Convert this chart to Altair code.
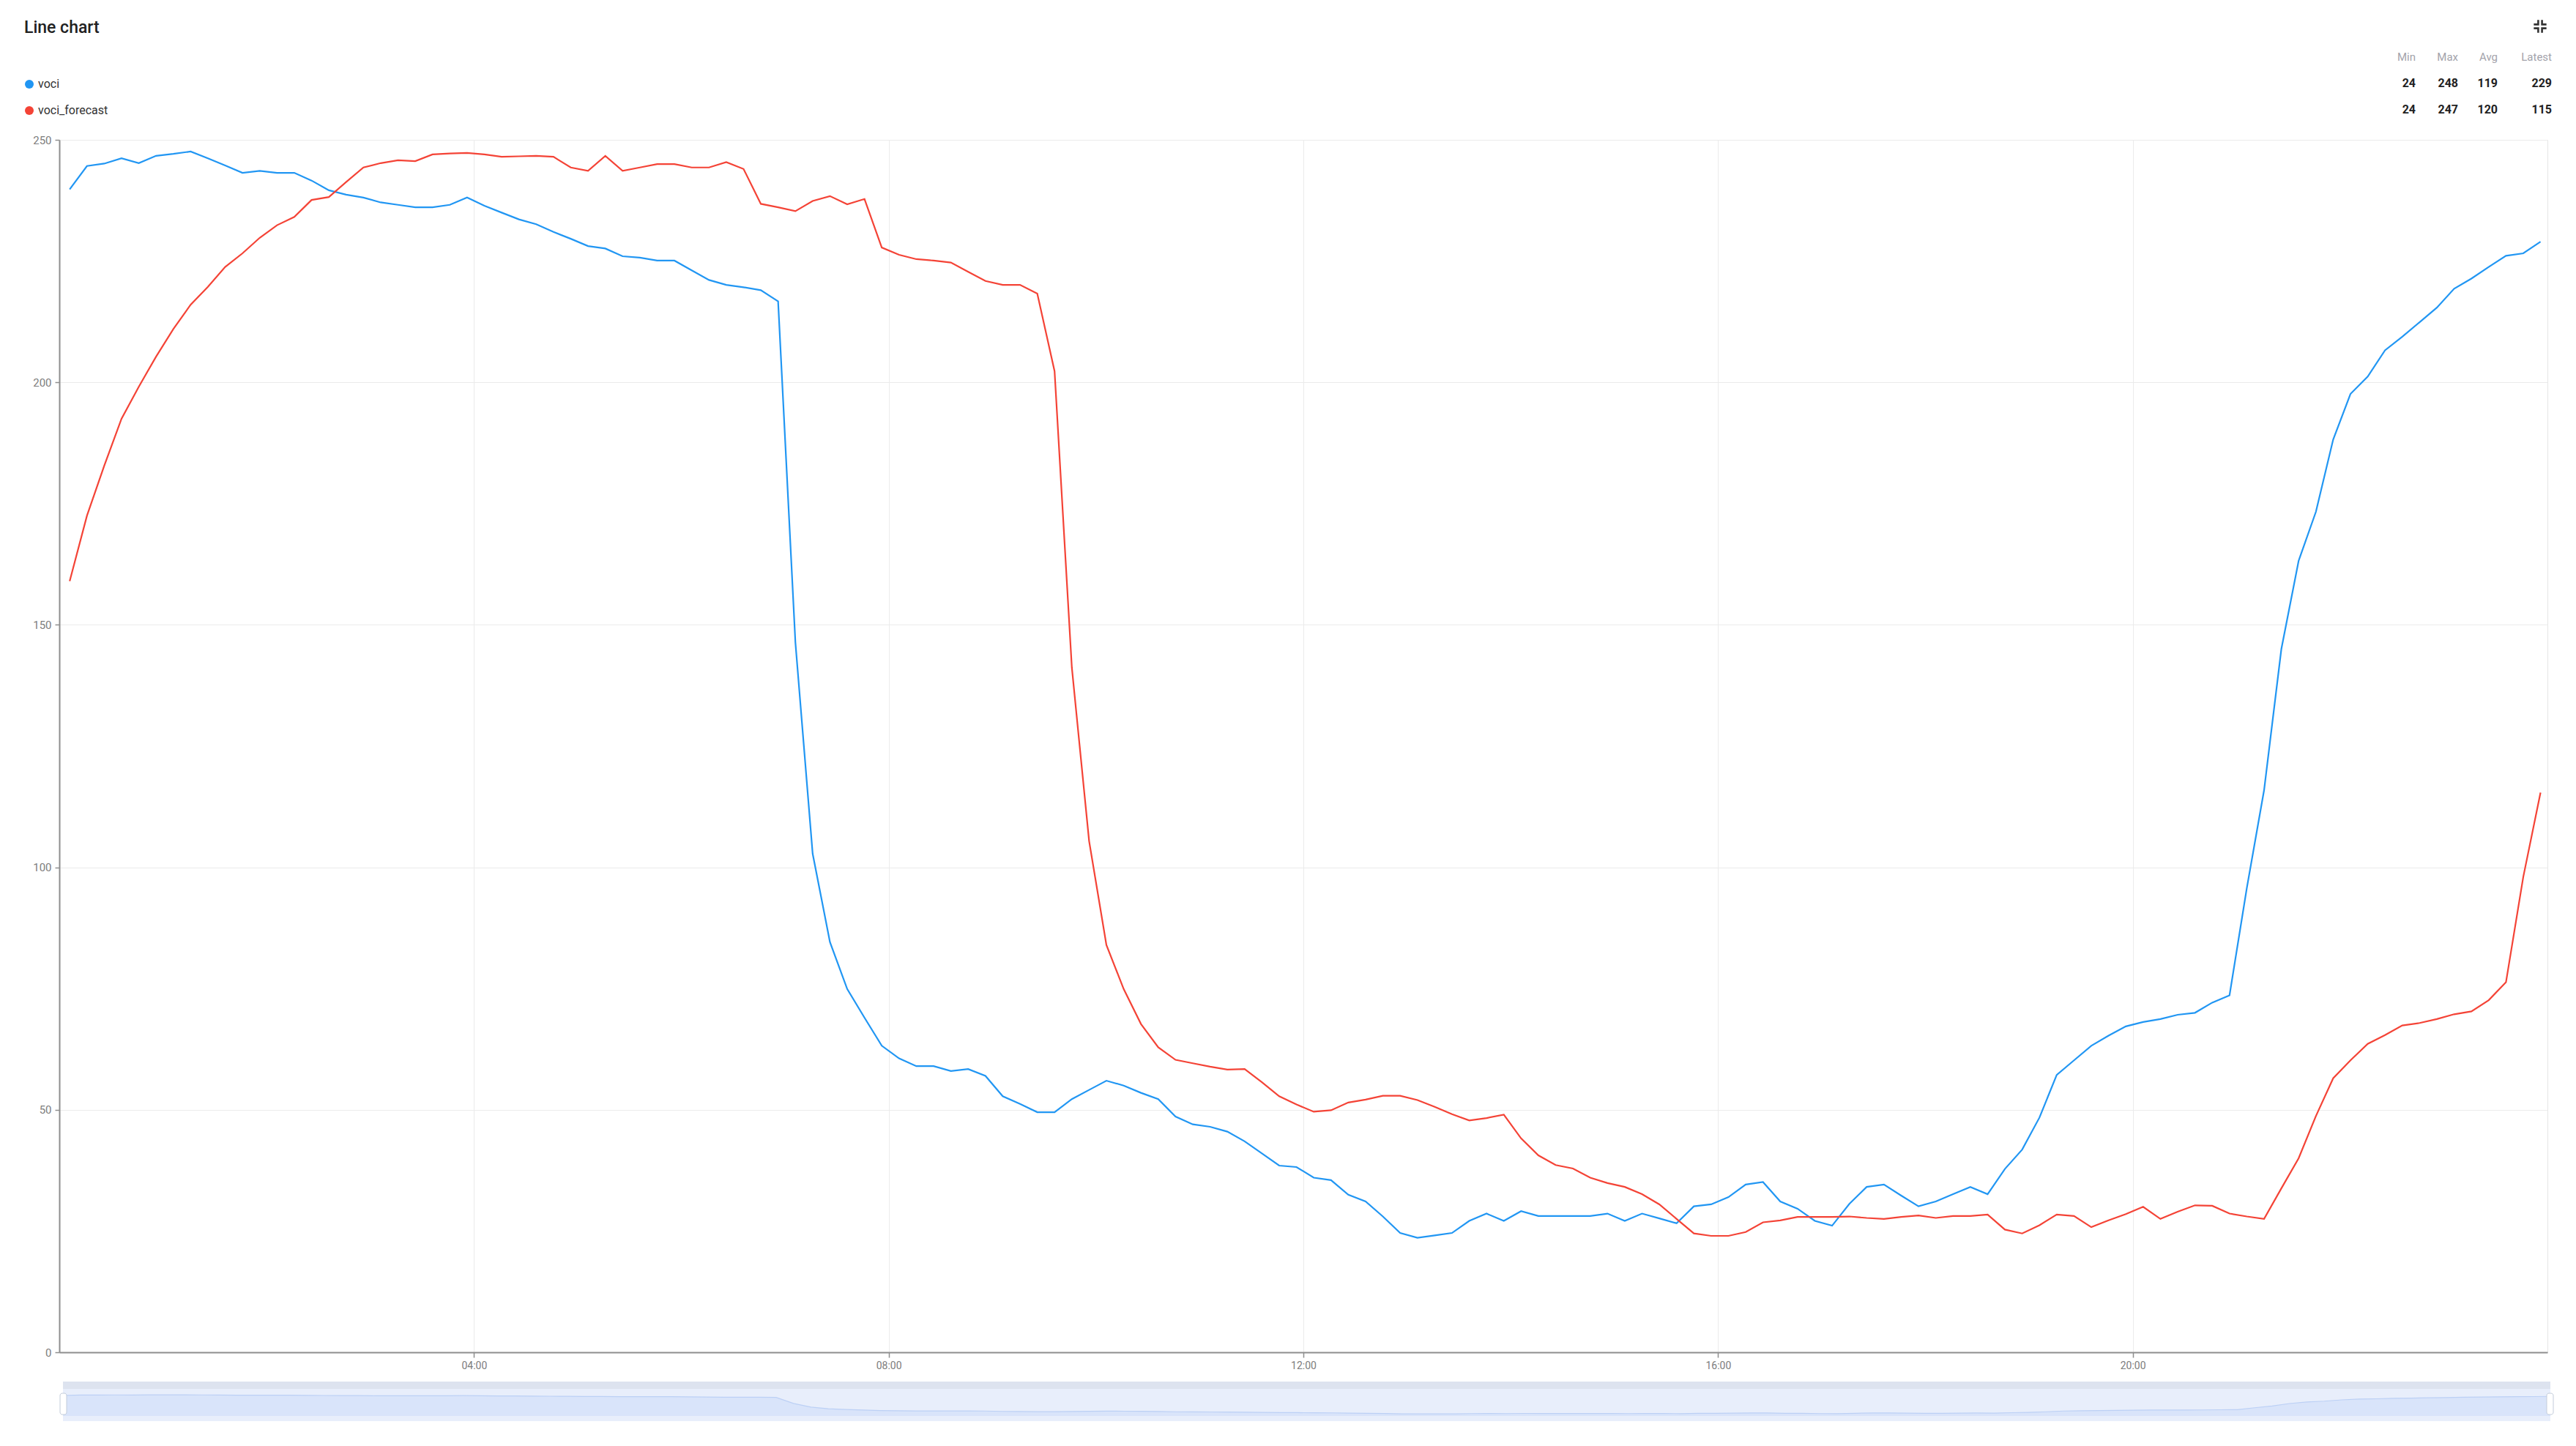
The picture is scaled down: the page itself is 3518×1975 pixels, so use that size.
import altair as alt
import pandas as pd

# ---------------- data ----------------
START = "2024-01-01 00:06"
STEP = "10min"
series_names = ["voci", "voci_forecast"]
series_colors = ["#2196f3", "#f44336"]
x_tick_hours = [4, 8, 12, 16, 20]
y_ticks = [0, 50, 100, 150, 200, 250]
stat_names = ["Min", "Max", "Avg", "Latest"]

voci = [239.8, 244.6, 245.1, 246.2, 245.2, 246.7, 247.1, 247.6, 246.2, 244.7,
        243.2, 243.6, 243.2, 243.2, 241.6, 239.6, 238.7, 238.1, 237.1, 236.6,
        236.1, 236.1, 236.6, 238.1, 236.4, 235.0, 233.6, 232.6, 231.0, 229.6,
        228.1, 227.6, 226.0, 225.7, 225.1, 225.1, 223.1, 221.1, 220.1, 219.6,
        219.0, 216.7, 146.4, 102.8, 84.6, 74.9, 69.0, 63.2, 60.6, 59.0,
        59.0, 58.0, 58.4, 57.0, 52.8, 51.2, 49.5, 49.5, 52.2, 54.1,
        56.0, 55.0, 53.5, 52.2, 48.6, 47.0, 46.5, 45.5, 43.5, 41.0,
        38.5, 38.2, 36.0, 35.5, 32.5, 31.1, 28.0, 24.6, 23.6, 24.1,
        24.6, 27.1, 28.6, 27.1, 29.1, 28.1, 28.1, 28.1, 28.1, 28.6,
        27.1, 28.6, 27.6, 26.6, 30.1, 30.5, 32.0, 34.6, 35.1, 31.1,
        29.6, 27.1, 26.1, 30.6, 34.1, 34.6, 32.3, 30.1, 31.1, 32.6,
        34.1, 32.6, 37.8, 41.8, 48.4, 57.2, 60.2, 63.2, 65.3, 67.2,
        68.1, 68.7, 69.6, 70.0, 72.1, 73.6, 95.7, 115.9, 145.0, 163.2,
        173.3, 188.2, 197.6, 201.2, 206.6, 209.4, 212.4, 215.4, 219.3, 221.4,
        223.8, 226.1, 226.6, 229.0]

voci_forecast = [159.0, 172.5, 182.8, 192.5, 199.1, 205.3, 211.0, 216.0, 219.7, 223.8,
                 226.6, 229.8, 232.4, 234.1, 237.6, 238.2, 241.3, 244.3, 245.2, 245.8,
                 245.6, 247.0, 247.2, 247.3, 247.0, 246.5, 246.6, 246.7, 246.5, 244.3,
                 243.6, 246.7, 243.6, 244.3, 245.0, 245.0, 244.3, 244.3, 245.4, 244.0,
                 236.8, 236.1, 235.3, 237.4, 238.4, 236.7, 237.8, 227.8, 226.3, 225.4,
                 225.1, 224.7, 222.8, 220.9, 220.1, 220.1, 218.3, 202.3, 141.2, 105.4,
                 84.0, 74.9, 67.7, 62.9, 60.3, 59.6, 58.9, 58.3, 58.4, 55.7,
                 52.8, 51.1, 49.6, 49.9, 51.5, 52.1, 52.9, 52.9, 52.0, 50.6,
                 49.1, 47.8, 48.3, 49.0, 44.1, 40.6, 38.6, 37.9, 36.0, 34.9,
                 34.1, 32.6, 30.5, 27.5, 24.5, 24.0, 24.0, 24.8, 26.8, 27.2,
                 27.9, 27.9, 27.9, 28.0, 27.7, 27.5, 27.9, 28.2, 27.7, 28.1,
                 28.1, 28.4, 25.3, 24.5, 26.2, 28.4, 28.1, 25.8, 27.2, 28.5,
                 30.0, 27.5, 29.0, 30.3, 30.2, 28.6, 28.0, 27.5, 33.8, 40.0,
                 48.7, 56.5, 60.2, 63.6, 65.4, 67.4, 67.9, 68.7, 69.7, 70.3,
                 72.6, 76.3, 98.0, 115.4]

n = len(voci)
times = list(pd.date_range(START, periods=n, freq=STEP))
df = pd.DataFrame({
    "time": times * 2,
    "series": [series_names[0]] * n + [series_names[1]] * n,
    "value": voci + voci_forecast,
})

stats = pd.DataFrame({
    "series": series_names,
    "Min": [min(voci), min(voci_forecast)],
    "Max": [max(voci), max(voci_forecast)],
    "Avg": [sum(voci) / n, sum(voci_forecast) / n],
    "Latest": [voci[-1], voci_forecast[-1]],
})

one = pd.DataFrame({"k": [0]})

# ---------------- layout ----------------
W, H = 3398, 1656
PAD = {"left": 73, "top": 183, "right": 29, "bottom": 110}
FONT = "Roboto"

color_scale = alt.Scale(domain=series_names, range=series_colors)


def dt(day, h):
    return alt.DateTime(year=2024, month=1, date=day, hours=h, minutes=0)


# main lines
lines = alt.Chart(df).mark_line(strokeWidth=2.2, interpolate="linear").encode(
    x=alt.X("time:T",
            scale=alt.Scale(domain=[dt(1, 0), dt(2, 0)], nice=False),
            axis=alt.Axis(values=[dt(1, h) for h in x_tick_hours], format="%H:%M",
                          title=None, grid=True, gridColor="#ebebeb", gridWidth=1,
                          domainColor="#8e8e8e", domainWidth=2,
                          tickColor="#8e8e8e", tickSize=7, tickWidth=1.5,
                          labelFont=FONT, labelFontSize=14, labelColor="#7d7d7d",
                          labelPadding=4)),
    y=alt.Y("value:Q",
            scale=alt.Scale(domain=[0, 250], nice=False, zero=True),
            axis=alt.Axis(values=y_ticks, title=None, grid=True, gridColor="#ebebeb",
                          gridWidth=1, domainColor="#8e8e8e", domainWidth=2,
                          tickColor="#8e8e8e", tickSize=6, tickWidth=1.5,
                          labelFont=FONT, labelFontSize=15, labelColor="#7d7d7d",
                          labelPadding=5)),
    color=alt.Color("series:N", scale=color_scale, legend=None),
)

# slider (data-zoom) at the bottom
SL_X0, SL_X1 = 5, 3402
strip = alt.Chart(one).mark_rect(color="#dde3ef").encode(
    x=alt.value(SL_X0), x2=alt.value(SL_X1), y=alt.value(1696), y2=alt.value(1706))
band = alt.Chart(one).mark_rect(color="#e8eefb").encode(
    x=alt.value(SL_X0), x2=alt.value(SL_X1), y=alt.value(1706), y2=alt.value(1750))
shadow = alt.Chart(df).transform_filter(alt.datum.series == series_names[0]).mark_area(
    color="#d3e0fa", line={"color": "#bcd0f5", "strokeWidth": 1.2}
).encode(
    x=alt.X("time:T", scale=alt.Scale(range=[SL_X0, SL_X1], nice=False), axis=None),
    y=alt.Y("value:Q", scale=alt.Scale(domain=[-61, 317], range=[1750, 1706],
                                       nice=False, zero=False), axis=None),
    y2=alt.value(1750),
)
handle_l = alt.Chart(one).mark_rect(fill="white", stroke="#c3ccda", strokeWidth=1,
                                    cornerRadius=3).encode(
    x=alt.value(1), x2=alt.value(10), y=alt.value(1712), y2=alt.value(1741))
handle_r = alt.Chart(one).mark_rect(fill="white", stroke="#c3ccda", strokeWidth=1,
                                    cornerRadius=3).encode(
    x=alt.value(3397), x2=alt.value(3406), y=alt.value(1712), y2=alt.value(1741))

# title
title = alt.Chart(one).mark_text(text="Line chart", font=FONT, fontSize=23, fontWeight=500,
                                 color="#212121", align="left", baseline="alphabetic").encode(
    x=alt.value(-48), y=alt.value(-146))

# legend (manual, data-driven colours)
legend_layers = []
for i, s in enumerate(series_names):
    ly = -76 + 36 * i
    sd = pd.DataFrame({"series": [s]})
    legend_layers.append(alt.Chart(sd).mark_point(filled=True, size=144, opacity=1,
                                                  shape="circle").encode(
        x=alt.value(-41), y=alt.value(ly),
        color=alt.Color("series:N", scale=color_scale, legend=None)))
    legend_layers.append(alt.Chart(sd).mark_text(font=FONT, fontSize=16, color="#333333",
                                                 align="left", baseline="middle").encode(
        x=alt.value(-29), y=alt.value(ly), text="series:N"))

# stats table
col_x = [3218, 3276, 3330, 3404]
table_layers = []
for name, cx in zip(stat_names, col_x):
    table_layers.append(alt.Chart(one).mark_text(text=name, font=FONT, fontSize=15,
                                                 color="#a3a3ab", align="right",
                                                 baseline="alphabetic").encode(
        x=alt.value(cx), y=alt.value(-108)))
    for i, s in enumerate(series_names):
        table_layers.append(
            alt.Chart(stats).transform_filter(alt.datum.series == s).mark_text(
                font=FONT, fontSize=16, fontWeight="bold", color="#222222",
                align="right", baseline="alphabetic").encode(
                x=alt.value(cx), y=alt.value(-72 + 36 * i),
                text=alt.Text(f"{name}:Q", format=".0f")))

# collapse icon, top right
ICON = ("M-1,-0.45L-0.45,-0.45L-0.45,-1L-0.15,-1L-0.15,-0.15L-1,-0.15Z"
        "M1,-0.45L0.45,-0.45L0.45,-1L0.15,-1L0.15,-0.15L1,-0.15Z"
        "M-1,0.45L-0.45,0.45L-0.45,1L-0.15,1L-0.15,0.15L-1,0.15Z"
        "M1,0.45L0.45,0.45L0.45,1L0.15,1L0.15,0.15L1,0.15Z")
icon = alt.Chart(one).mark_point(shape=ICON, filled=True, size=300, color="#333333",
                                 opacity=1).encode(x=alt.value(3388), y=alt.value(-155))

chart = alt.layer(
    strip, band, shadow, handle_l, handle_r, lines, title, icon,
    *legend_layers, *table_layers,
).resolve_scale(
    x="independent", y="independent"
).properties(
    width=W, height=H,
    autosize=alt.AutoSizeParams(type="none"),
    padding=PAD,
    background="white",
).configure_view(
    stroke="#e6e6e6", strokeWidth=1
)

chart.save("out.html", embed_options={"renderer": "svg", "actions": False})
